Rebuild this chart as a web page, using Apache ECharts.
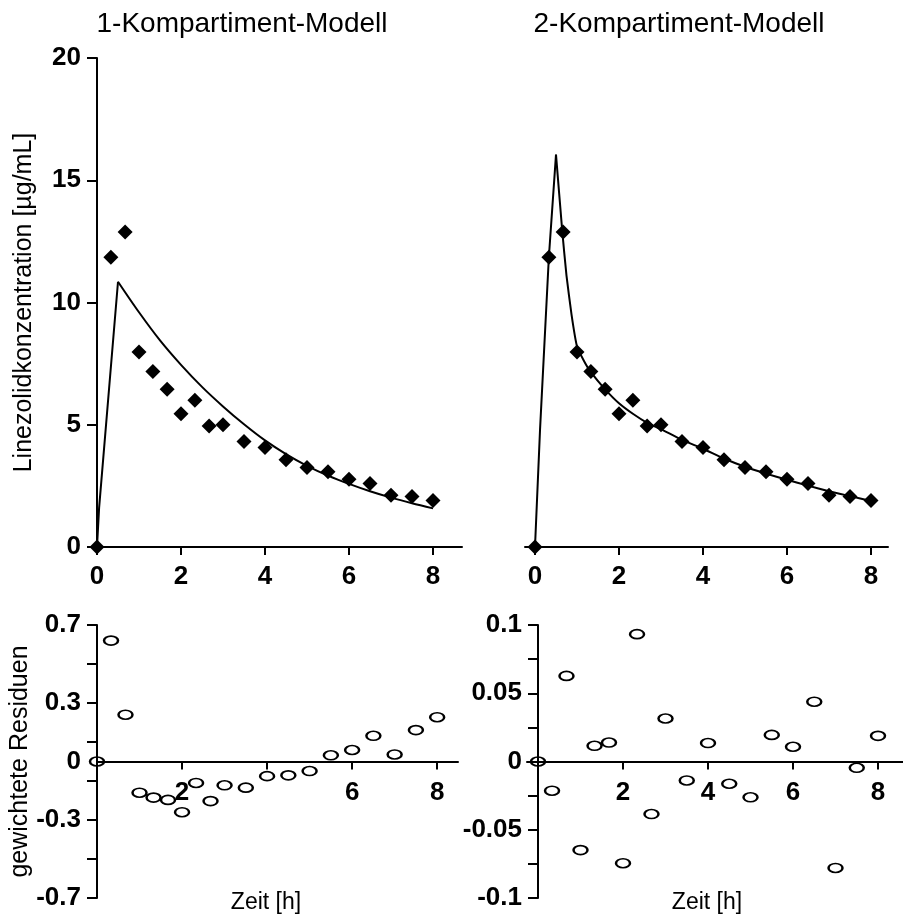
<!DOCTYPE html>
<html>
<head>
<meta charset="utf-8">
<script src="https://cdn.jsdelivr.net/npm/echarts@6/dist/echarts.min.js"></script>
<style>
  html, body { margin: 0; padding: 0; background: #fff; }
  #chart { width: 903px; height: 916px; }
</style>
</head>
<body>
<div id="chart"></div>
<script>
// ---- data ----
const times = [0, 0.33, 0.67, 1, 1.33, 1.67, 2, 2.33, 2.67, 3, 3.5, 4, 4.5, 5, 5.5, 6, 6.5, 7, 7.5, 8];
const concObserved = [0, 11.85, 12.88, 7.98, 7.18, 6.45, 5.45, 6.0, 4.95, 5.0, 4.32, 4.07, 3.57, 3.25, 3.08, 2.77, 2.6, 2.12, 2.07, 1.9];

// 1-compartment fit: rising part (infusion) and decay part
const fit1RiseTimes = [0, 0.05, 0.5];
const fit1RiseConc  = [0, 1.6, 10.85];
const fit1DecayTimes = [0.5, 1, 1.5, 2, 2.5, 3, 3.5, 4, 4.5, 5, 5.5, 6, 6.5, 7, 7.5, 8];
const fit1DecayConc  = [10.85, 9.6, 8.45, 7.45, 6.55, 5.75, 5.02, 4.36, 3.8, 3.32, 2.92, 2.58, 2.28, 2.02, 1.79, 1.58];

// 2-compartment fit
const fit2RiseTimes = [0, 0.12, 0.33, 0.5];
const fit2RiseConc  = [0, 4.8, 11.85, 16.05];
const fit2DecayTimes = [0.5, 0.65, 0.75, 0.87, 1, 1.17, 1.33, 1.67, 2, 2.33, 2.67, 3, 3.5, 4, 4.5, 5, 5.5, 6, 6.5, 7, 7.5, 8];
const fit2DecayConc  = [16.05, 12.9, 11.1, 9.5, 8.2, 7.6, 7.15, 6.45, 5.88, 5.45, 5.08, 4.82, 4.38, 4.02, 3.62, 3.28, 3.0, 2.75, 2.51, 2.28, 2.08, 1.88];

const resid1 = [0, 0.62, 0.24, -0.16, -0.185, -0.197, -0.26, -0.11, -0.203, -0.122, -0.134, -0.075, -0.071, -0.049, 0.032, 0.059, 0.132, 0.036, 0.161, 0.227];
const resid2 = [0, -0.0214, 0.0627, -0.0649, 0.0115, 0.0139, -0.0745, 0.0933, -0.0385, 0.0315, -0.0139, 0.0135, -0.0163, -0.0262, 0.0195, 0.0108, 0.0438, -0.078, -0.0046, 0.0188];

const timeTicks = [0, 2, 4, 6, 8];
const timeLabelsRes1 = [2, 6, 8];
const timeLabelsRes2 = [2, 4, 6, 8];
const concTicks = [0, 5, 10, 15, 20];
const res1Labels = [-0.7, -0.3, 0, 0.3, 0.7];
const res1Ticks = [-0.7, -0.5, -0.3, -0.1, 0.1, 0.3, 0.5, 0.7];
const res2Labels = [-0.1, -0.05, 0, 0.05, 0.1];
const res2Ticks = [-0.1, -0.075, -0.05, -0.025, 0, 0.025, 0.05, 0.075, 0.1];

const titles = ['1-Kompartiment-Modell', '2-Kompartiment-Modell'];
const yTitleTop = 'Linezolidkonzentration [µg/mL]';
const yTitleBottom = 'gewichtete Residuen';
const xTitle = 'Zeit [h]';

// ---- helpers ----
const FONT = '"Liberation Sans", Arial, sans-serif';
const pairs = (xs, ys) => xs.map((x, i) => [x, ys[i]]);
const lineStyleAxis = { color: '#000', width: 2 };
const labelStyle = { color: '#000', fontFamily: FONT, fontWeight: 'bold', fontSize: 26 };
const zeroFmt = v => (Math.abs(v) < 1e-9 ? '0' : String(v));

function xAxisDef(grid, min, max, labels, offset, margin) {
  return {
    type: 'value', gridIndex: grid, min: min, max: max, offset: offset,
    splitLine: { show: false },
    axisLine: { show: true, onZero: false, lineStyle: lineStyleAxis },
    axisTick: { show: true, length: 8, lineStyle: lineStyleAxis, customValues: timeTicks },
    axisLabel: Object.assign({ margin: margin, customValues: labels }, labelStyle)
  };
}
function yAxisDef(grid, min, max, labels, ticks, show, name, offset) {
  return {
    type: 'value', gridIndex: grid, min: min, max: max, show: show, offset: offset,
    name: name, nameLocation: 'middle', nameRotate: 90, nameGap: 60,
    nameTextStyle: { color: '#000', fontFamily: FONT, fontSize: 25 },
    splitLine: { show: false },
    axisLine: { show: true, onZero: false, lineStyle: lineStyleAxis },
    axisTick: { show: true, length: 10, lineStyle: lineStyleAxis, customValues: ticks },
    axisLabel: Object.assign({ margin: 16, customValues: labels, formatter: zeroFmt }, labelStyle)
  };
}

const chart = echarts.init(document.getElementById('chart'), null, { renderer: 'canvas' });
const diamond = { type: 'scatter', symbol: 'diamond', symbolSize: 15, itemStyle: { color: '#000', opacity: 1 }, z: 3 };
const ellipse = { type: 'scatter', symbol: 'circle', symbolSize: [14, 9],
  itemStyle: { color: 'rgba(255,255,255,0)', borderColor: '#000', borderWidth: 2, opacity: 1 }, z: 3 };
const fitLine = { type: 'line', showSymbol: false, symbol: 'none', lineStyle: { color: '#000', width: 2 }, z: 4 };

chart.setOption({
  animation: false,
  backgroundColor: '#fff',
  grid: [
    { left: 97, top: 58, width: 365, height: 489 },
    { left: 525, top: 58, width: 363, height: 489 },
    { left: 97, top: 625, width: 361, height: 273 },
    { left: 527, top: 625, width: 376, height: 273 }
  ],
  xAxis: [
    xAxisDef(0, 0, 8.69, timeTicks, 0, 17),
    xAxisDef(1, -0.238, 8.405, timeTicks, 0, 17),
    xAxisDef(2, 0, 8.49, timeLabelsRes1, -136.5, 18),
    xAxisDef(3, -0.259, 8.588, timeLabelsRes2, -136.5, 18)
  ],
  yAxis: [
    yAxisDef(0, 0, 20, concTicks, concTicks, true, yTitleTop, 0),
    yAxisDef(1, 0, 20, concTicks, concTicks, false, '', 0),
    yAxisDef(2, -0.7, 0.7, res1Labels, res1Ticks, true, yTitleBottom, 0),
    yAxisDef(3, -0.1, 0.1, res2Labels, res2Ticks, true, '', -11)
  ],
  graphic: [
    { type: 'text', x: 242, y: 24, style: { text: titles[0], fill: '#000', font: '28px ' + FONT, textAlign: 'center', textVerticalAlign: 'middle' } },
    { type: 'text', x: 679, y: 24, style: { text: titles[1], fill: '#000', font: '28px ' + FONT, textAlign: 'center', textVerticalAlign: 'middle' } },
    { type: 'text', x: 266, y: 903, style: { text: xTitle, fill: '#000', font: '23px ' + FONT, textAlign: 'center', textVerticalAlign: 'middle' } },
    { type: 'text', x: 707, y: 903, style: { text: xTitle, fill: '#000', font: '23px ' + FONT, textAlign: 'center', textVerticalAlign: 'middle' } }
  ],
  series: [
    Object.assign({}, fitLine, { xAxisIndex: 0, yAxisIndex: 0, data: pairs(fit1RiseTimes, fit1RiseConc) }),
    Object.assign({}, fitLine, { xAxisIndex: 0, yAxisIndex: 0, smooth: 0.3, data: pairs(fit1DecayTimes, fit1DecayConc) }),
    Object.assign({}, diamond, { xAxisIndex: 0, yAxisIndex: 0, data: pairs(times, concObserved) }),
    Object.assign({}, fitLine, { xAxisIndex: 1, yAxisIndex: 1, data: pairs(fit2RiseTimes, fit2RiseConc) }),
    Object.assign({}, fitLine, { xAxisIndex: 1, yAxisIndex: 1, smooth: 0.15, data: pairs(fit2DecayTimes, fit2DecayConc) }),
    Object.assign({}, diamond, { xAxisIndex: 1, yAxisIndex: 1, data: pairs(times, concObserved) }),
    Object.assign({}, ellipse, { xAxisIndex: 2, yAxisIndex: 2, data: pairs(times, resid1) }),
    Object.assign({}, ellipse, { xAxisIndex: 3, yAxisIndex: 3, data: pairs(times, resid2) })
  ]
});
</script>
</body>
</html>
